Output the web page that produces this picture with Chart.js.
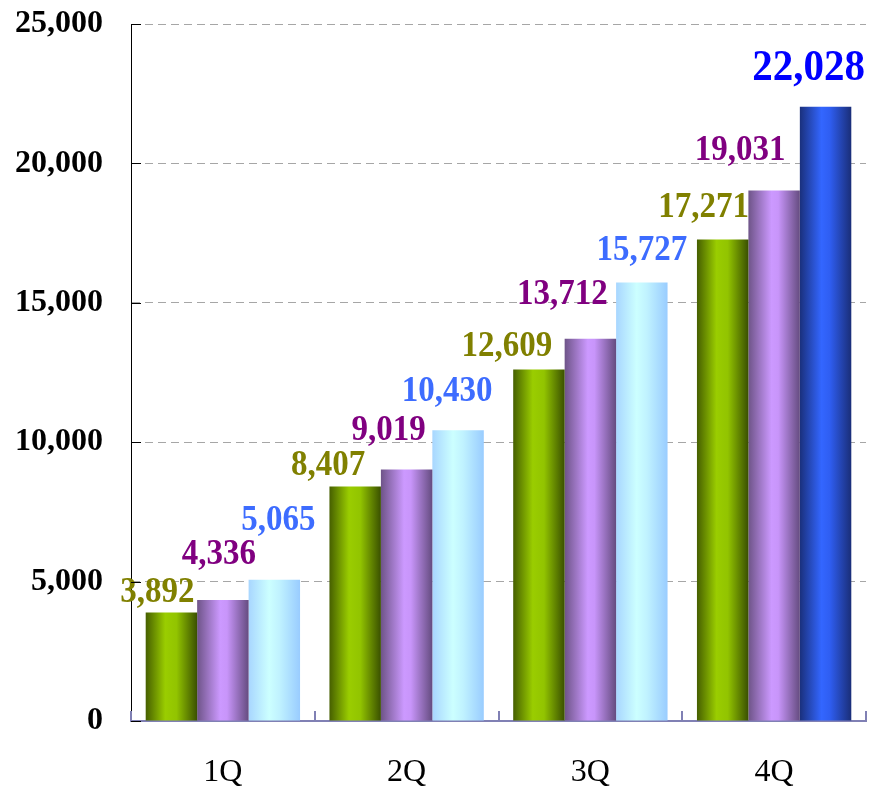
<!DOCTYPE html>
<html>
<head>
<meta charset="utf-8">
<script src="https://cdn.jsdelivr.net/npm/chart.js@4/dist/chart.umd.min.js"></script>
<style>
  html, body { margin: 0; padding: 0; background: #fff; }
  #wrap { position: relative; width: 871px; height: 789px; }
</style>
</head>
<body>
<div id="wrap"><canvas id="salesChart" width="871" height="789"></canvas></div>
<script>
/* global Chart */

const quarters = ["1Q", "2Q", "3Q", "4Q"];
const seriesA = [3892, 8407, 12609, 17271];
const seriesB = [4336, 9019, 13712, 19031];
const seriesC = [5065, 10430, 15727, 22028];
const yTickValues = [0, 5000, 10000, 15000, 20000, 25000];

// horizontal "cylinder" shading per series
const barShades = [
  [[0, "#465f00"], [0.38, "#9acd00"], [0.6, "#92c400"], [1, "#3a5000"]],
  [[0, "#6e5488"], [0.45, "#cc99ff"], [0.58, "#c895fa"], [1, "#654c80"]],
  [[0, "#a8d6ff"], [0.4, "#ccffff"], [0.6, "#c0f2ff"], [1, "#99ccff"]],
];
// last bar of the third series is drawn in deep blue
const highlightShade = [[0, "#1a307c"], [0.42, "#3366ff"], [0.58, "#2f5ef2"], [1, "#1a2e78"]];

const labelColors = ["#808000", "#800080", "#3d6cff"];
const highlightLabelColor = "#0000ff";

// nudges for the value labels, [dx, dy] from the top centre of each bar
const labelShift = [
  [[-14, -20], [-27, -21], [-32, -23], [-19, -32]],
  [[-4, -45], [-18, -39], [-28, -44], [-34, -40]],
  [[4, -59], [-11, -39], [0, -32], [-17, -39]],
];

const fmt = (v) => v.toLocaleString("en-US");
const isHighlight = (d, i) => d === 2 && i === quarters.length - 1;

const shadePlugin = {
  id: "shade",
  beforeDatasetsDraw(chart) {
    const ctx = chart.ctx;
    chart.data.datasets.forEach((ds, d) => {
      chart.getDatasetMeta(d).data.forEach((bar, i) => {
        const { x, width } = bar.getProps(["x", "width"], true);
        const left = x - width / 2;
        const g = ctx.createLinearGradient(left, 0, left + width, 0);
        const stops = isHighlight(d, i) ? highlightShade : barShades[d];
        stops.forEach(([p, c]) => g.addColorStop(p, c));
        bar.options = Object.assign({}, bar.options, { backgroundColor: g });
      });
    });
  },
};

// value labels, slightly stretched upright like a condensed face
const valueLabels = {
  id: "valueLabels",
  afterDatasetsDraw(chart) {
    const ctx = chart.ctx;
    chart.data.datasets.forEach((ds, d) => {
      chart.getDatasetMeta(d).data.forEach((bar, i) => {
        const [dx, dy] = labelShift[d][i];
        const big = isHighlight(d, i);
        ctx.save();
        ctx.translate(bar.x + dx, bar.y + dy);
        ctx.scale(1, 1.1);
        ctx.textAlign = "center";
        ctx.textBaseline = "middle";
        ctx.font = `bold ${big ? 41 : 33}px "Liberation Serif", serif`;
        ctx.fillStyle = big ? highlightLabelColor : labelColors[d];
        ctx.fillText(fmt(ds.data[i]), 0, 0);
        ctx.restore();
      });
    });
  },
};

// short tick marks pointing into the plot area
const innerTicks = {
  id: "innerTicks",
  afterDatasetsDraw(chart) {
    const { ctx, scales: { x, y } } = chart;
    ctx.save();
    ctx.lineWidth = 1;
    ctx.strokeStyle = "#000";
    y.ticks.forEach((t) => {
      const py = Math.round(y.getPixelForValue(t.value)) + 0.5;
      ctx.beginPath();
      ctx.moveTo(x.left, py);
      ctx.lineTo(x.left + 10, py);
      ctx.stroke();
    });
    ctx.strokeStyle = "#8080b4";
    ctx.lineWidth = 2;
    const step = x.width / quarters.length;
    for (let i = 0; i <= quarters.length; i++) {
      const px = Math.round(x.left + i * step);
      ctx.beginPath();
      ctx.moveTo(px, y.bottom);
      ctx.lineTo(px, y.bottom - 10);
      ctx.stroke();
    }
    ctx.restore();
  },
};

const datasets = [seriesA, seriesB, seriesC].map((data, d) => ({
  label: `series${d + 1}`,
  data,
  backgroundColor: barShades[d][1][1],
  borderWidth: 0,
  barPercentage: 1,
  categoryPercentage: 0.84,
}));

new Chart(document.getElementById("salesChart"), {
  type: "bar",
  data: { labels: quarters, datasets },
  plugins: [shadePlugin, valueLabels, innerTicks],
  options: {
    responsive: false,
    animation: false,
    layout: { padding: { top: 24, right: 5, left: 0, bottom: 0 } },
    plugins: { legend: { display: false }, tooltip: { enabled: false } },
    scales: {
      x: {
        grid: { display: true, drawOnChartArea: false, drawTicks: false },
        border: { color: "#8080b4", width: 2 },
        ticks: {
          color: "#000",
          padding: 32,
          font: { family: "'Liberation Serif', serif", size: 32 },
        },
        afterFit: (scale) => { scale.height = 68; },
      },
      y: {
        min: 0,
        max: 25000,
        afterBuildTicks: (scale) => {
          scale.ticks = yTickValues.map((v) => ({ value: v }));
        },
        grid: { color: "#a6a6a6", lineWidth: 1, drawTicks: false },
        border: { color: "#000", width: 1, dash: [8, 5] },
        ticks: {
          color: "#000",
          padding: 28,
          font: { family: "'Liberation Serif', serif", size: 32, weight: "bold" },
          callback: (v) => fmt(v),
        },
        afterFit: (scale) => {
          scale.width = 131;
          scale.paddingTop = 0;
          scale.paddingBottom = 0;
        },
      },
    },
  },
});
</script>
</body>
</html>
